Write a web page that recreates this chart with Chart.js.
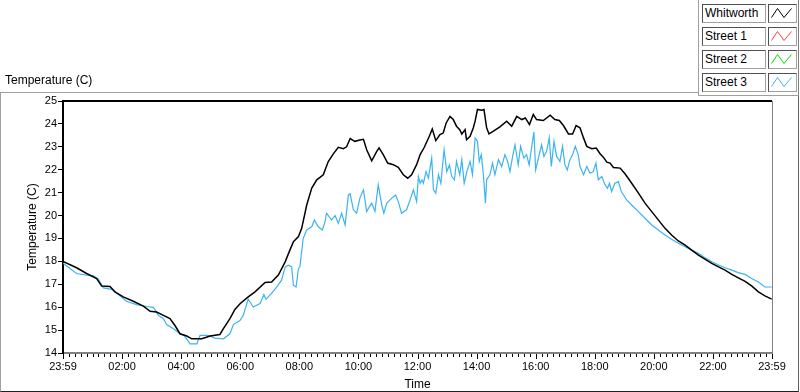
<!DOCTYPE html>
<html>
<head>
<meta charset="utf-8">
<script src="https://cdn.jsdelivr.net/npm/chart.js@4/dist/chart.umd.min.js"></script>
<style>
  html, body { margin: 0; padding: 0; background: #fff; }
  #wrap { position: relative; width: 800px; height: 392px; overflow: hidden; font-family: "Liberation Sans", Arial, sans-serif; }
  #frame { position: absolute; left: 0; top: 92px; width: 799px; height: 300px; box-sizing: border-box;
           border-top: 1px solid #a0a0a0; border-left: 1px solid #a0a0a0; border-right: 1px solid #606060; border-bottom: 1px solid #202020; }
  #c { position: absolute; left: 0; top: 0; }
  #title { position: absolute; left: 5px; top: 73px; font-size: 12px; color: #000; white-space: nowrap; }
  #legendPanel { position: absolute; left: 698px; top: -1px; width: 101px; height: 97px; box-sizing: border-box; background: #fff;
                 border-left: 1px solid #a0a0a0; border-bottom: 1px solid #a0a0a0; border-right: 1px solid #808080; }
  .lbl { position: absolute; left: 702px; width: 64px; height: 19px; box-sizing: border-box; font-size: 12px; line-height: 17px; padding-left: 2px; color: #000;
         border-top: 1px solid #505050; border-left: 1px solid #505050; border-right: 1px solid #a0a0a0; border-bottom: 1px solid #a0a0a0; background: #fff; white-space: nowrap; }
  .ico { position: absolute; left: 768px; width: 29px; height: 19px; box-sizing: border-box;
         border-top: 1px solid #505050; border-left: 1px solid #505050; border-right: 1px solid #a0a0a0; border-bottom: 1px solid #a0a0a0; background: #fff; }
  .ico svg { position: absolute; left: 0; top: 0; }
</style>
</head>
<body>
<div id="wrap">
  <div id="frame"></div>
  <canvas id="c" width="800" height="392"></canvas>
  <div id="title">Temperature (C)</div>
  <div id="legendPanel"></div>
</div>
<script>
// ---------------- data ----------------
const seriesNames  = ["Whitworth", "Street 1", "Street 2", "Street 3"];
const seriesColors = ["#000000", "#ff4040", "#00e000", "#3cb4f0"];

const yTickMin = 14, yTickMax = 25, yTickStep = 1;
const xMinHour = 0, xMaxHour = 24, xMajorStep = 2, xMinorStep = 0.2;
const xEndLabel = "23:59";

const whitworthHours = [0,0.46,0.8,1.14,1.31,1.59,1.76,2.04,2.38,2.72,2.95,3.17,3.4,3.62,3.79,3.96,4.19,4.36,4.7,4.98,5.31,5.43,5.65,5.82,6.0,6.27,6.5,6.84,7.06,7.29,7.52,7.68,7.8,7.97,8.08,8.25,8.42,8.59,8.81,8.98,9.15,9.32,9.49,9.6,9.72,9.88,10.05,10.17,10.28,10.45,10.62,10.7,10.84,10.99,11.18,11.35,11.52,11.67,11.8,11.97,12.09,12.23,12.4,12.5,12.62,12.76,12.87,12.97,13.1,13.21,13.32,13.43,13.5,13.61,13.66,13.78,13.89,13.95,14.03,14.17,14.25,14.34,14.42,14.57,14.79,15.02,15.19,15.36,15.53,15.65,15.79,15.92,16.03,16.26,16.49,16.65,16.8,16.94,17.11,17.25,17.37,17.5,17.62,17.73,17.9,18.05,18.18,18.29,18.41,18.52,18.63,18.86,19.03,19.25,19.48,19.7,19.93,20.15,20.38,20.6,20.83,21.06,21.28,21.51,21.73,21.96,22.19,22.41,22.64,22.86,23.09,23.31,23.54,23.76,23.99];
const whitworthTemp  = [18.0,17.72,17.47,17.25,16.92,16.9,16.67,16.45,16.26,16.05,15.82,15.79,15.64,15.5,15.2,14.84,14.74,14.62,14.62,14.74,14.81,15.06,15.5,15.9,16.16,16.45,16.67,17.08,17.1,17.4,17.98,18.49,18.86,19.08,19.44,20.46,21.2,21.56,21.78,22.36,22.69,22.98,22.92,23.0,23.36,23.24,23.3,23.33,22.87,22.39,22.8,22.95,22.66,22.29,22.22,22.1,21.78,21.63,21.78,22.22,22.66,22.98,23.46,23.78,23.27,23.53,23.6,24.04,24.33,24.19,23.9,23.75,23.56,23.75,23.31,23.46,23.83,24.12,24.63,24.6,24.63,23.83,23.56,23.68,23.87,24.12,23.9,24.33,24.19,24.26,23.97,24.41,24.19,24.15,24.38,24.19,24.15,23.93,23.56,23.56,23.93,23.83,23.39,23.02,22.92,22.95,22.7,22.55,22.33,22.29,22.1,22.07,21.81,21.41,20.98,20.54,20.17,19.81,19.44,19.15,18.89,18.71,18.49,18.27,18.1,17.91,17.76,17.62,17.43,17.28,17.13,16.93,16.67,16.49,16.35];

const street3Hours = [0,0.46,0.8,1.03,1.2,1.37,1.65,1.87,2.15,2.49,2.83,3.06,3.23,3.4,3.51,3.74,3.96,4.1,4.3,4.53,4.64,4.92,5.14,5.43,5.65,5.77,5.99,6.1,6.27,6.44,6.67,6.8,6.87,7.06,7.23,7.4,7.52,7.63,7.74,7.8,7.89,7.97,8.02,8.13,8.25,8.42,8.51,8.64,8.78,8.87,8.92,9.09,9.21,9.32,9.43,9.55,9.66,9.72,9.83,9.94,10.05,10.17,10.28,10.45,10.56,10.67,10.79,10.86,10.96,11.13,11.26,11.35,11.46,11.63,11.75,11.86,11.97,12.03,12.09,12.15,12.2,12.29,12.37,12.48,12.54,12.62,12.71,12.79,12.9,12.99,13.08,13.16,13.25,13.32,13.43,13.5,13.58,13.67,13.78,13.86,13.95,14.03,14.09,14.16,14.23,14.3,14.34,14.45,14.54,14.62,14.74,14.85,14.96,15.05,15.13,15.22,15.3,15.41,15.49,15.6,15.69,15.78,15.86,15.94,16.0,16.08,16.2,16.28,16.37,16.46,16.53,16.62,16.71,16.82,16.91,16.99,17.07,17.16,17.25,17.34,17.44,17.5,17.62,17.73,17.84,17.95,18.04,18.12,18.24,18.35,18.43,18.5,18.57,18.68,18.8,18.9,19.08,19.25,19.48,19.7,19.93,20.15,20.38,20.6,20.83,21.06,21.28,21.51,21.73,21.96,22.19,22.41,22.64,22.86,23.09,23.31,23.54,23.76,23.99];
const street3Temp  = [17.92,17.47,17.4,17.37,17.22,16.84,16.78,16.55,16.26,16.11,16.03,15.99,15.64,15.5,15.24,15.06,14.84,14.77,14.4,14.4,14.77,14.77,14.65,14.62,14.84,15.24,15.42,15.64,16.35,16.01,16.16,16.55,16.35,16.6,16.88,17.18,17.76,17.83,17.76,16.96,16.88,17.69,17.76,19.0,19.37,19.51,19.81,19.51,19.37,19.73,20.1,19.81,20.0,19.66,20.1,19.59,20.9,20.95,20.25,20.1,20.76,21.12,20.18,20.54,20.18,21.34,20.47,20.1,20.54,20.76,20.9,20.61,20.1,20.25,20.69,21.12,20.61,21.7,21.41,21.56,21.41,21.92,21.63,22.51,21.12,20.98,21.78,21.41,22.87,21.92,22.2,21.7,21.56,22.36,21.78,22.44,21.41,21.92,22.36,21.78,23.39,23.24,22.36,22.66,21.78,20.54,21.56,21.78,22.29,21.78,22.44,22.14,22.66,22.36,21.92,22.58,23.09,22.21,23.02,22.51,22.66,22.21,22.95,23.65,21.99,22.44,23.09,22.58,22.8,23.39,22.14,23.24,22.58,22.36,23.02,22.21,21.99,22.44,22.66,23.02,22.66,22.14,21.78,22.14,21.85,21.92,22.29,21.56,21.7,21.34,21.19,21.41,21.05,21.41,21.48,21.05,20.68,20.46,20.17,19.88,19.59,19.37,19.15,18.97,18.79,18.64,18.49,18.35,18.16,17.98,17.84,17.72,17.62,17.51,17.43,17.25,17.1,16.88,16.88];

const street1Hours = [], street1Temp = [];
const street2Hours = [], street2Temp = [];

// ---------------- legend (HTML) ----------------
const legendTop = [4, 27, 50, 73];
const wrap = document.getElementById('wrap');
seriesNames.forEach((name, i) => {
  const l = document.createElement('div');
  l.className = 'lbl'; l.style.top = legendTop[i] + 'px'; l.textContent = name;
  wrap.appendChild(l);
  const ic = document.createElement('div');
  ic.className = 'ico'; ic.style.top = legendTop[i] + 'px';
  ic.innerHTML = '<svg width="27" height="17" viewBox="0 0 27 17"><polyline points="2.5,12.5 8.5,3.5 15,12.5 22.5,3.5" fill="none" stroke="' + seriesColors[i] + '" stroke-width="1"/></svg>';
  wrap.appendChild(ic);
});

// ---------------- chart ----------------
const toXY = (hs, vs) => hs.map((h, i) => ({ x: h, y: vs[i] }));
const pad2 = n => (n < 10 ? '0' : '') + n;

const frameTicksPlugin = {
  id: 'frameTicks',
  afterDraw(chart) {
    const { ctx, chartArea: a } = chart;
    const xs = chart.scales.x;
    ctx.save();
    ctx.strokeStyle = '#000'; ctx.lineWidth = 2;
    ctx.beginPath(); ctx.moveTo(a.left - 1, a.top); ctx.lineTo(a.right, a.top); ctx.stroke();
    ctx.strokeStyle = '#808080'; ctx.lineWidth = 1;
    ctx.beginPath(); ctx.moveTo(a.right + 0.5, a.top); ctx.lineTo(a.right + 0.5, a.bottom); ctx.stroke();
    ctx.strokeStyle = '#000'; ctx.lineWidth = 1;
    const n = Math.round((xMaxHour - xMinHour) / xMinorStep);
    const perMajor = Math.round(xMajorStep / xMinorStep);
    for (let k = 0; k <= n; k++) {
      const v = xMinHour + k * xMinorStep;
      const px = Math.round(xs.getPixelForValue(v)) + 0.5;
      const len = (k % perMajor === 0) ? 5 : 3;
      ctx.beginPath(); ctx.moveTo(px, a.bottom + 1); ctx.lineTo(px, a.bottom + 1 + len); ctx.stroke();
    }
    ctx.restore();
  }
};

const tickFont = { family: "'Liberation Sans', Arial, sans-serif", size: 11 };
const titleFont = { family: "'Liberation Sans', Arial, sans-serif", size: 12, lineHeight: 1.2 };

new Chart(document.getElementById('c'), {
  type: 'line',
  data: {
    datasets: [
      { label: seriesNames[0], data: toXY(whitworthHours, whitworthTemp), borderColor: seriesColors[0], borderWidth: 1.5 },
      { label: seriesNames[1], data: toXY(street1Hours, street1Temp), borderColor: seriesColors[1], borderWidth: 1.2 },
      { label: seriesNames[2], data: toXY(street2Hours, street2Temp), borderColor: seriesColors[2], borderWidth: 1.2 },
      { label: seriesNames[3], data: toXY(street3Hours, street3Temp), borderColor: seriesColors[3], borderWidth: 1.2 }
    ]
  },
  options: {
    responsive: false,
    animation: false,
    devicePixelRatio: 1,
    elements: { point: { radius: 0 }, line: { tension: 0, fill: false } },
    layout: { padding: { left: 0, top: 101, right: 28, bottom: 0 } },
    plugins: { legend: { display: false }, tooltip: { enabled: false } },
    scales: {
      x: {
        type: 'linear', min: xMinHour, max: xMaxHour,
        afterFit: s => { s.height = 39; },
        ticks: { stepSize: xMajorStep, autoSkip: false, maxRotation: 0, padding: 7, color: '#000', font: tickFont,
                 callback: v => (v === xMinHour || v === xMaxHour) ? xEndLabel : pad2(v) + ':00' },
        grid: { display: true, drawOnChartArea: false, drawTicks: false },
        border: { display: true, color: '#808080', width: 2 },
        title: { display: true, text: 'Time', color: '#000', font: titleFont, padding: { top: 0, bottom: 0 } }
      },
      y: {
        min: yTickMin, max: yTickMax,
        afterFit: s => { s.width = 63; },
        ticks: { stepSize: yTickStep, padding: 1, color: '#000', font: tickFont },
        grid: { display: true, drawOnChartArea: false, drawTicks: true, tickLength: 5, tickColor: '#000', tickWidth: 1 },
        border: { display: true, color: '#000', width: 2 },
        title: { display: true, text: 'Temperature (C)', color: '#000', font: titleFont, padding: { top: 25, bottom: 0 } }
      }
    }
  },
  plugins: [frameTicksPlugin]
});
</script>
</body>
</html>
